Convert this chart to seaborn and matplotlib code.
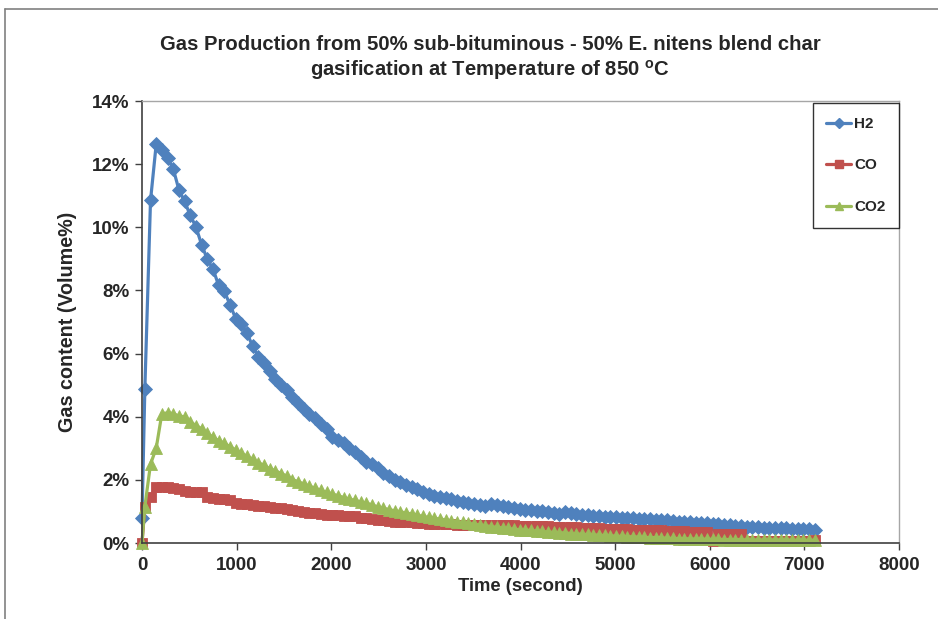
import numpy as np
import pandas as pd
import matplotlib
matplotlib.use("Agg")
import matplotlib.pyplot as plt
from matplotlib.ticker import FuncFormatter, MultipleLocator
from matplotlib.lines import Line2D
import seaborn as sns

# Sampling times (s): first reading, one at 30 s, then every 60 s from 90 s
time_s = [0, 30] + list(range(90, 7111, 60))

# Gas content in volume %
h2 = [0.8, 4.87,
      10.85, 12.63, 12.46, 12.2, 11.85, 11.19, 10.82, 10.38, 10.01, 9.45,
      8.99, 8.68, 8.16, 7.97, 7.55, 7.11, 6.93, 6.64, 6.23, 5.9,
      5.71, 5.45, 5.21, 5.0, 4.84, 4.61, 4.44, 4.24, 4.08, 3.95,
      3.77, 3.6, 3.36, 3.26, 3.17, 3.0, 2.89, 2.71, 2.57, 2.5,
      2.36, 2.22, 2.12, 2.0, 1.92, 1.84, 1.76, 1.7, 1.62, 1.56,
      1.5, 1.46, 1.41, 1.38, 1.34, 1.3, 1.26, 1.22, 1.2, 1.17,
      1.24, 1.2, 1.16, 1.14, 1.1, 1.08, 1.06, 1.04, 1.02, 1.0,
      0.97, 0.95, 0.93, 0.98, 0.96, 0.93, 0.9, 0.89, 0.87, 0.85,
      0.83, 0.82, 0.81, 0.8, 0.79, 0.78, 0.77, 0.76, 0.75, 0.74,
      0.73, 0.72, 0.7, 0.68, 0.67, 0.65, 0.64, 0.63, 0.62, 0.61,
      0.6, 0.58, 0.57, 0.55, 0.54, 0.52, 0.51, 0.5, 0.49, 0.48,
      0.47, 0.46, 0.46, 0.45, 0.44, 0.43, 0.43, 0.42]

co = [0.0, 1.15,
      1.47, 1.78, 1.78, 1.76, 1.73, 1.7, 1.65, 1.62, 1.62, 1.62,
      1.45, 1.42, 1.4, 1.38, 1.36, 1.27, 1.25, 1.24, 1.2, 1.18,
      1.16, 1.13, 1.1, 1.1, 1.07, 1.04, 1.0, 0.98, 0.96, 0.94,
      0.92, 0.9, 0.89, 0.88, 0.87, 0.86, 0.84, 0.8, 0.78, 0.76,
      0.74, 0.72, 0.7, 0.68, 0.67, 0.66, 0.65, 0.64, 0.62, 0.61,
      0.6, 0.6, 0.59, 0.59, 0.58, 0.58, 0.58, 0.57, 0.57, 0.57,
      0.57, 0.56, 0.56, 0.56, 0.56, 0.55, 0.55, 0.54, 0.54, 0.53,
      0.53, 0.52, 0.52, 0.51, 0.51, 0.5, 0.49, 0.48, 0.47, 0.46,
      0.45, 0.44, 0.44, 0.43, 0.43, 0.42, 0.42, 0.41, 0.41, 0.4,
      0.4, 0.39, 0.38, 0.37, 0.37, 0.36, 0.36, 0.35, 0.35, 0.05,
      0.3, 0.3, 0.3, 0.3, 0.3, 0.05, 0.05, 0.05, 0.05, 0.05,
      0.05, 0.05, 0.05, 0.05, 0.05, 0.05, 0.05, 0.1]

co2 = [0.0, 1.15,
       2.5, 3.0, 4.1, 4.12, 4.1, 4.02, 4.0, 3.84, 3.72, 3.62,
       3.47, 3.35, 3.24, 3.16, 3.05, 2.95, 2.84, 2.75, 2.65, 2.54,
       2.46, 2.35, 2.29, 2.2, 2.12, 2.01, 1.94, 1.87, 1.8, 1.73,
       1.67, 1.6, 1.55, 1.5, 1.44, 1.39, 1.35, 1.3, 1.26, 1.21,
       1.14, 1.1, 1.06, 1.02, 0.99, 0.95, 0.92, 0.88, 0.84, 0.81,
       0.78, 0.76, 0.73, 0.71, 0.68, 0.65, 0.62, 0.6, 0.57, 0.55,
       0.52, 0.5, 0.48, 0.46, 0.44, 0.42, 0.41, 0.4, 0.38, 0.37,
       0.35, 0.34, 0.33, 0.32, 0.3, 0.29, 0.28, 0.27, 0.26, 0.25,
       0.24, 0.23, 0.22, 0.21, 0.2, 0.2, 0.19, 0.18, 0.17, 0.17,
       0.16, 0.15, 0.15, 0.14, 0.14, 0.13, 0.13, 0.13, 0.12, 0.12,
       0.12, 0.11, 0.11, 0.11, 0.11, 0.1, 0.1, 0.1, 0.1, 0.1,
       0.1, 0.1, 0.1, 0.09, 0.09, 0.09, 0.09, 0.09]

gases = ["H2", "CO", "CO2"]
colors = {"H2": "#4F81BD", "CO": "#C0504D", "CO2": "#9BBB59"}
markers = {"H2": "D", "CO": "s", "CO2": "^"}
msizes = {"H2": 7, "CO": 7, "CO2": 8}

df = pd.concat([
    pd.DataFrame({"time": time_s, "content": vals, "gas": g})
    for g, vals in zip(gases, [h2, co, co2])
], ignore_index=True)

sns.set_theme(style="white")
plt.rcParams["font.family"] = ["Liberation Sans", "DejaVu Sans"]
plt.rcParams["mathtext.fontset"] = "custom"
plt.rcParams["mathtext.rm"] = "Liberation Sans"
plt.rcParams["mathtext.bf"] = "Liberation Sans:bold"

fig = plt.figure(figsize=(9.38, 6.19), dpi=100)
ax = fig.add_axes([142 / 938, 1 - 543 / 619, (899 - 142) / 938, (543 - 101) / 619])

for g in gases:
    sns.lineplot(data=df[df["gas"] == g], x="time", y="content", ax=ax,
                 color=colors[g], marker=markers[g], markersize=msizes[g],
                 markeredgecolor=colors[g], markeredgewidth=0.6,
                 linewidth=2.3, legend=False, errorbar=None)
for line in ax.get_lines():
    line.set_clip_on(False)

ax.set_xlim(0, 8000)
ax.set_ylim(0, 14)
ax.xaxis.set_major_locator(MultipleLocator(1000))
ax.yaxis.set_major_locator(MultipleLocator(2))
ax.yaxis.set_major_formatter(FuncFormatter(lambda v, p: f"{v:.0f}%"))
ax.tick_params(axis="both", direction="out", length=5, width=1, color="#404040",
               labelsize=13.5, bottom=True, left=True)
ax.tick_params(axis="x", pad=5)
ax.tick_params(axis="y", pad=4)
for lab in ax.get_xticklabels() + ax.get_yticklabels():
    lab.set_fontweight("bold")

for side in ["left", "bottom"]:
    ax.spines[side].set_color("#404040")
    ax.spines[side].set_linewidth(1.2)
for side in ["top", "right"]:
    ax.spines[side].set_color("#A6A6A6")
    ax.spines[side].set_linewidth(1.0)

ax.set_xlabel("Time (second)", fontsize=13.3, fontweight="bold", labelpad=3)
ax.set_ylabel("Gas content (Volume%)", fontsize=14.2, fontweight="bold", labelpad=11)

fig.text(490 / 938, 1 - 45 / 619,
         "Gas Production from 50% sub-bituminous - 50% E. nitens blend char",
         ha="center", va="center", fontsize=14.6, fontweight="bold")
fig.text(490 / 938, 1 - 70 / 619,
         r"gasification at Temperature of 850 $^{\mathbf{o}}$C",
         ha="center", va="center", fontsize=14.6, fontweight="bold")

handles = [Line2D([0], [0], color=colors[g], marker=markers[g],
                  markersize=msizes[g] * 0.8, markeredgecolor=colors[g],
                  linewidth=2.3) for g in gases]
leg = ax.legend(handles, gases, loc="upper right", bbox_to_anchor=(1.0, 0.995),
                frameon=True, fancybox=False, edgecolor="black",
                prop={"weight": "bold", "size": 11}, handlelength=1.6,
                handletextpad=0.2, labelspacing=1.8, borderpad=0.9,
                borderaxespad=0.0)
leg.get_frame().set_linewidth(1.0)
leg.set_zorder(5)

# chart-area border
fig.add_artist(Line2D([5 / 938, 5 / 938], [0, 1 - 9 / 619], transform=fig.transFigure,
                      color="#808080", linewidth=1.2))
fig.add_artist(Line2D([5 / 938, 1], [1 - 9 / 619, 1 - 9 / 619], transform=fig.transFigure,
                      color="#808080", linewidth=1.2))

fig.savefig("out.png", dpi=100)
